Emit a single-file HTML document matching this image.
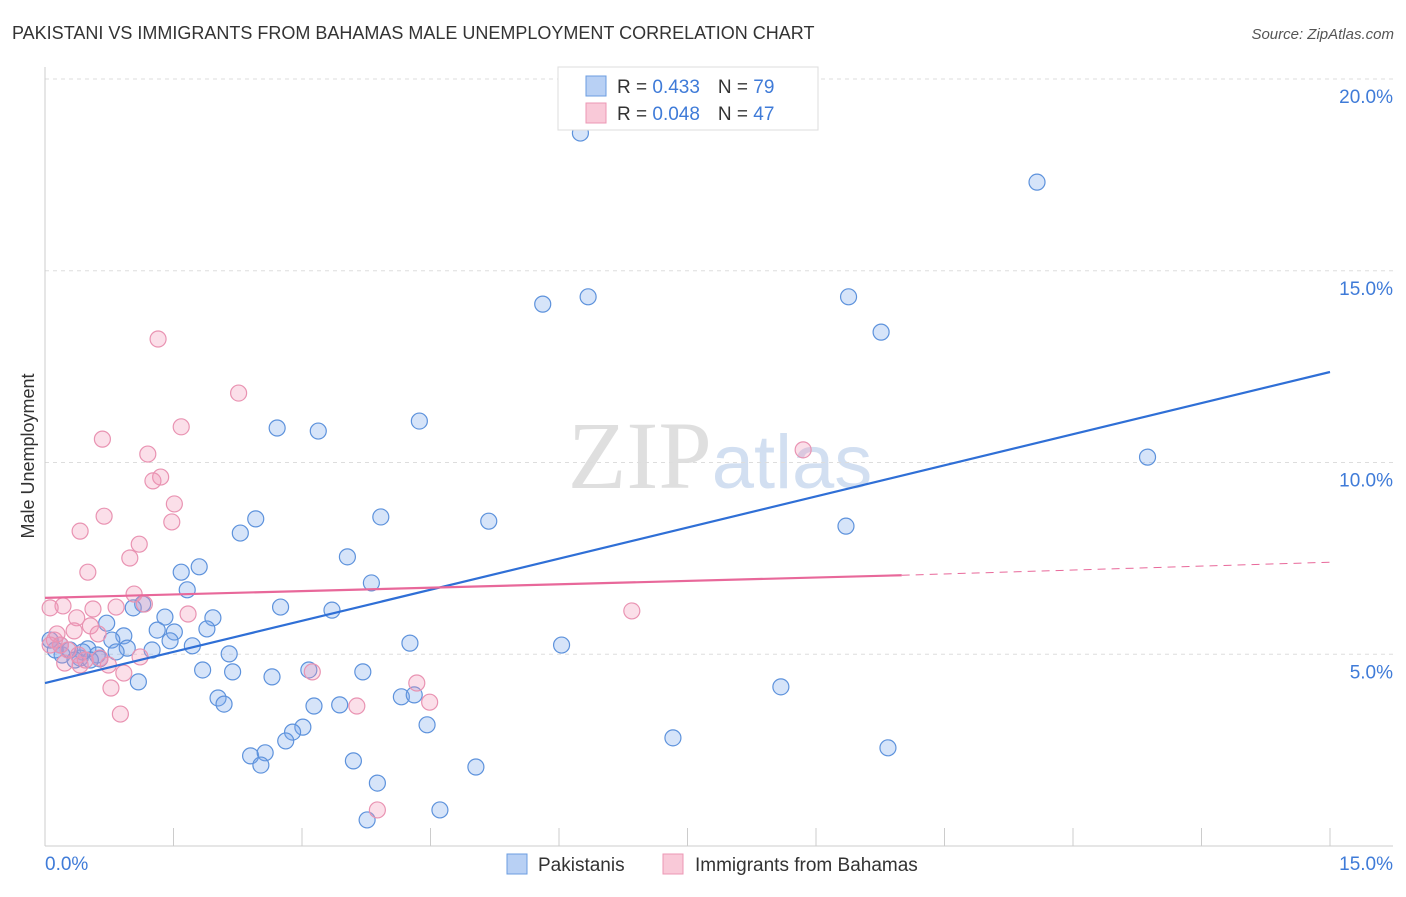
<!DOCTYPE html>
<html><head><meta charset="utf-8">
<style>
body{margin:0;background:#fff;font-family:"Liberation Sans",sans-serif;}
svg text{font-family:"Liberation Sans",sans-serif;}
</style></head>
<body>
<svg id="chart" width="1406" height="892" viewBox="0 0 1406 892" xmlns="http://www.w3.org/2000/svg">
<text x="12" y="39" font-size="18" fill="#333">PAKISTANI VS IMMIGRANTS FROM BAHAMAS MALE UNEMPLOYMENT CORRELATION CHART</text>
<text x="1394" y="39" font-size="15" fill="#555" text-anchor="end" font-style="italic">Source: ZipAtlas.com</text>
<text x="720" y="488" font-size="96" text-anchor="middle" fill="#ddd" opacity="0.8"><tspan font-family="Liberation Serif" fill="#d8d8d8">ZIP</tspan><tspan fill="#c8d8ee" font-size="76">atlas</tspan></text>
<g id="grid"></g>
<g id="axes"></g>
<g id="pts"></g>
<g id="lines"></g>
<text transform="translate(34,456) rotate(-90)" font-size="18" fill="#333" text-anchor="middle">Male Unemployment</text>
<g>
<rect x="558" y="67" width="260" height="63" fill="#fff" stroke="#ddd"/>
<rect x="586" y="76" width="20" height="20" fill="#b8d0f4" stroke="#6b9de0"/>
<rect x="586" y="103" width="20" height="20" fill="#f9c9d8" stroke="#ec97b4"/>
<text x="617" y="93" font-size="19" fill="#333">R = <tspan fill="#3f7bd8">0.433</tspan><tspan dx="18">N = </tspan><tspan fill="#3f7bd8">79</tspan></text>
<text x="617" y="120" font-size="19" fill="#333">R = <tspan fill="#3f7bd8">0.048</tspan><tspan dx="18">N = </tspan><tspan fill="#3f7bd8">47</tspan></text>
</g>
<g>
<rect x="507" y="854" width="20" height="20" fill="#b8d0f4" stroke="#6b9de0"/>
<text x="538" y="871" font-size="19" fill="#333">Pakistanis</text>
<rect x="663" y="854" width="20" height="20" fill="#f9c9d8" stroke="#ec97b4"/>
<text x="695" y="871" font-size="19" fill="#333">Immigrants from Bahamas</text>
</g>
</svg>
<script>
const xTickLabels=["0.0%","15.0%"];
const yTicks=[5,10,15,20];
const yTickLabels=["5.0%","10.0%","15.0%","20.0%"];
const blueX=[6.25,11.58,5.81,6.34,9.38,9.76,12.87,2.71,3.19,4.37,3.92,5.18,9.35,2.46,2.28,3.53,1.80,1.59,3.81,1.66,2.75,3.35,1.14,1.03,1.40,1.96,0.72,1.31,1.51,1.89,0.92,0.78,1.46,1.72,4.26,6.03,0.96,1.25,0.83,0.50,0.61,2.15,0.64,0.41,0.20,0.12,0.06,1.84,2.19,3.08,3.71,2.65,1.09,8.59,4.16,4.31,2.02,2.09,3.14,3.44,4.46,3.01,2.89,2.81,7.33,9.84,2.40,2.57,2.52,3.60,5.03,3.88,4.61,3.76,0.29,0.18,0.53,0.44,0.35];
const blueY=[18.59,17.31,14.13,14.32,14.32,13.40,10.14,10.90,10.82,11.08,8.58,8.47,8.34,8.53,8.16,7.54,7.28,7.14,6.86,6.68,6.23,6.15,6.31,6.21,5.97,5.95,5.81,5.63,5.58,5.66,5.48,5.37,5.35,5.22,5.29,5.24,5.16,5.11,5.06,5.14,4.98,5.01,4.88,4.90,4.98,5.11,5.37,4.59,4.54,4.59,4.54,4.41,4.28,4.15,3.89,3.94,3.86,3.70,3.65,3.68,3.16,3.10,2.97,2.74,2.82,2.56,2.35,2.43,2.11,2.22,2.06,1.64,0.94,0.68,5.11,5.24,4.85,5.06,4.85];
const pinkX=[1.32,2.26,1.59,0.67,1.20,1.35,1.26,1.51,0.69,1.48,0.41,1.10,0.99,0.50,1.04,1.16,0.21,0.56,0.83,1.67,0.37,0.53,0.34,0.62,8.85,6.85,0.11,0.18,0.27,0.39,0.64,0.74,0.41,1.11,0.92,0.77,3.12,4.34,4.49,3.64,0.88,3.88,0.06,0.14,0.06,0.47,0.23];
const pinkY=[13.22,11.81,10.93,10.61,10.22,9.62,9.52,8.92,8.60,8.45,8.21,7.87,7.51,7.14,6.57,6.31,6.26,6.18,6.23,6.05,5.95,5.74,5.61,5.53,10.33,6.13,5.37,5.24,5.11,4.98,4.90,4.72,4.72,4.93,4.51,4.12,4.54,4.25,3.75,3.65,3.44,0.94,6.21,5.53,5.24,4.85,4.77];
const blueTrend=[[0,4.25],[15,12.36]];
const pinkTrend=[[0,6.47],[10,7.06],[15,7.4]];

const NS="http://www.w3.org/2000/svg";
const X=v=>45+v*(1285/15);
const Y=v=>846-v*(767/20);
function mk(tag,attrs,parent){const e=document.createElementNS(NS,tag);for(const k in attrs)e.setAttribute(k,attrs[k]);parent.appendChild(e);return e;}
const grid=document.getElementById('grid'),axes=document.getElementById('axes'),pts=document.getElementById('pts'),lines=document.getElementById('lines');
yTicks.forEach((t,i)=>{
 const l=mk('line',{x1:45,x2:1393,y1:Y(t),y2:Y(t),stroke:'#ddd','stroke-dasharray':'4,4'},grid);
 
 
 const tx=mk('text',{x:1393,y:Y(t)+24,'font-size':19,fill:'#3f7bd8','text-anchor':'end'},axes);
 tx.textContent=yTickLabels[i];
 
 
});
const la=mk('line',{x1:45,x2:45,y1:67,y2:846,stroke:'#ccc'},axes);


const ba=mk('line',{x1:45,x2:1393,y1:846,y2:846,stroke:'#ccc'},axes);


for(let i=0;i<=10;i++){
 const t=mk('line',{x1:X(i*1.5),x2:X(i*1.5),y1:828,y2:846,stroke:'#ccc'},axes);
 
 
}
[[0,'start',45],[15,'end',1393]].forEach((d,i)=>{
 const tx=mk('text',{x:d[2],y:870,'font-size':19,fill:'#3f7bd8','text-anchor':d[1]},axes);
 tx.textContent=xTickLabels[i];
 
 
});
function drawPts(xs,ys,fill,stroke,name){
 xs.forEach((x,i)=>{
  const c=mk('circle',{cx:X(x),cy:Y(ys[i]),r:8,fill:fill,stroke:stroke,'stroke-width':1.2},pts);
  
  
 });
}
drawPts(blueX,blueY,'rgba(120,165,235,0.3)','#5d92dc','pakistani-point');
drawPts(pinkX,pinkY,'rgba(242,150,182,0.3)','#e993b2','bahamas-point');
const bl=mk('line',{x1:X(blueTrend[0][0]),y1:Y(blueTrend[0][1]),x2:X(blueTrend[1][0]),y2:Y(blueTrend[1][1]),stroke:'#2f6fd6','stroke-width':2.2},lines);


const pl=mk('line',{x1:X(pinkTrend[0][0]),y1:Y(pinkTrend[0][1]),x2:X(pinkTrend[1][0]),y2:Y(pinkTrend[1][1]),stroke:'#e8689a','stroke-width':2.2},lines);


const pd=mk('line',{x1:X(pinkTrend[1][0]),y1:Y(pinkTrend[1][1]),x2:X(pinkTrend[2][0]),y2:Y(pinkTrend[2][1]),stroke:'#e8689a','stroke-width':1,'stroke-dasharray':'8,6'},lines);


</script>
</body></html>
